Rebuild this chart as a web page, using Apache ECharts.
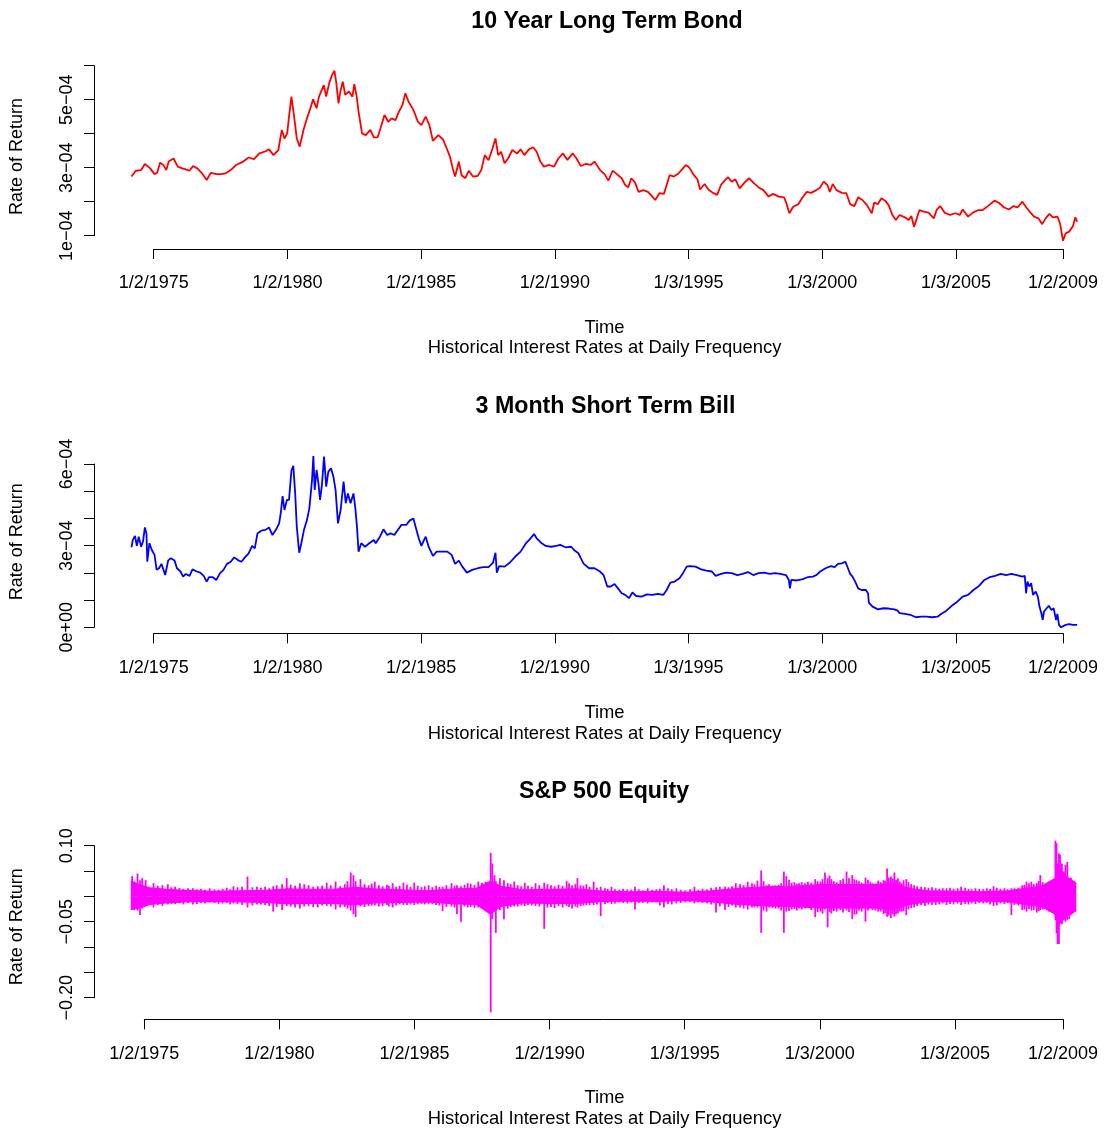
<!DOCTYPE html>
<html>
<head>
<meta charset="utf-8">
<script src="https://cdn.jsdelivr.net/npm/echarts@6/dist/echarts.min.js"></script>
<style>
  html, body { margin: 0; padding: 0; background: #fff; }
  #chart { width: 1106px; height: 1133px; }
</style>
</head>
<body>
<div id="chart"></div>
<script>
// ---- Date axis (decimal years) ----
const dateTicks = [1975, 1980, 1985, 1990, 1995, 2000, 2005, 2009];
const dateLabels = ['1/2/1975', '1/2/1980', '1/2/1985', '1/2/1990', '1/3/1995', '1/3/2000', '1/3/2005', '1/2/2009'];

// ---- Rate axes ----
const bondYTicks = [1e-4, 2e-4, 3e-4, 4e-4, 5e-4, 6e-4];
const bondYLabelAt = [1e-4, 3e-4, 5e-4];
const bondYLabels = ['1e\u221204', '3e\u221204', '5e\u221204'];

const billYTicks = [0, 1e-4, 2e-4, 3e-4, 4e-4, 5e-4, 6e-4];
const billYLabelAt = [0, 3e-4, 6e-4];
const billYLabels = ['0e+00', '3e\u221204', '6e\u221204'];

const spxYTicks = [-0.20, -0.15, -0.10, -0.05, 0, 0.05, 0.10];
const spxYLabelAt = [-0.20, -0.05, 0.10];
const spxYLabels = ['\u22120.20', '\u22120.05', '0.10'];

// ---- 10 year bond daily rate: [year, rate in units of 1e-4] ----
const bondRate = [
  [1974.17,2.74],[1974.33,2.91],[1974.53,2.93],[1974.67,3.11],[1974.87,2.98],[1975.03,2.81],[1975.13,2.85],
  [1975.24,3.15],[1975.37,3.07],[1975.47,2.93],[1975.56,3.18],[1975.74,3.27],[1975.90,3.03],[1976.07,2.98],
  [1976.20,2.95],[1976.34,2.91],[1976.47,3.05],[1976.63,2.98],[1976.81,2.83],[1976.98,2.64],[1977.14,2.85],
  [1977.34,2.81],[1977.54,2.81],[1977.68,2.83],[1977.88,2.93],[1978.08,3.08],[1978.35,3.18],[1978.55,3.30],
  [1978.75,3.25],[1978.95,3.42],[1979.15,3.47],[1979.31,3.54],[1979.48,3.37],[1979.66,3.52],[1979.79,4.11],
  [1979.89,3.86],[1979.99,4.01],[1980.06,4.50],[1980.15,5.09],[1980.25,4.50],[1980.35,3.86],[1980.46,3.62],
  [1980.60,4.11],[1980.73,4.45],[1980.86,4.75],[1980.96,5.01],[1981.09,4.75],[1981.18,5.09],[1981.36,5.43],
  [1981.45,5.09],[1981.56,5.48],[1981.67,5.73],[1981.76,5.85],[1981.83,5.48],[1981.91,4.89],[1981.99,5.28],
  [1982.07,5.53],[1982.16,5.14],[1982.30,5.24],[1982.43,5.09],[1982.50,5.46],[1982.59,5.09],[1982.66,4.65],
  [1982.79,4.01],[1982.93,3.96],[1983.10,4.11],[1983.23,3.89],[1983.37,3.89],[1983.46,4.11],[1983.63,4.55],
  [1983.77,4.35],[1983.90,4.45],[1984.04,4.40],[1984.17,4.65],[1984.30,4.84],[1984.41,5.19],[1984.53,4.94],
  [1984.71,4.70],[1984.88,4.35],[1985.01,4.25],[1985.17,4.50],[1985.31,4.25],[1985.44,3.79],[1985.64,3.96],
  [1985.82,3.83],[1985.98,3.52],[1986.08,3.32],[1986.18,2.98],[1986.27,2.74],[1986.41,3.18],[1986.51,2.78],
  [1986.65,2.69],[1986.78,2.91],[1986.94,2.74],[1987.12,2.76],[1987.25,2.93],[1987.38,3.37],[1987.52,3.22],
  [1987.65,3.52],[1987.78,3.86],[1987.88,3.37],[1987.99,3.47],[1988.12,3.13],[1988.25,3.27],[1988.41,3.52],
  [1988.59,3.42],[1988.72,3.54],[1988.86,3.37],[1989.03,3.54],[1989.19,3.60],[1989.32,3.47],[1989.46,3.18],
  [1989.59,3.03],[1989.79,3.08],[1989.97,3.03],[1990.13,3.27],[1990.30,3.42],[1990.47,3.23],[1990.67,3.42],
  [1990.81,3.27],[1990.97,3.05],[1991.15,3.11],[1991.35,3.08],[1991.48,3.18],[1991.69,2.93],[1991.86,2.81],
  [1992.00,2.62],[1992.16,2.91],[1992.32,2.81],[1992.50,2.69],[1992.63,2.49],[1992.74,2.42],[1992.86,2.69],
  [1993.00,2.56],[1993.13,2.29],[1993.31,2.34],[1993.48,2.29],[1993.62,2.17],[1993.75,2.05],[1993.91,2.25],
  [1994.08,2.23],[1994.18,2.49],[1994.29,2.78],[1994.45,2.74],[1994.62,2.83],[1994.79,2.98],[1994.89,3.08],
  [1995.02,3.01],[1995.20,2.78],[1995.33,2.66],[1995.43,2.36],[1995.60,2.52],[1995.74,2.36],[1995.91,2.26],
  [1996.07,2.20],[1996.21,2.49],[1996.37,2.64],[1996.48,2.72],[1996.61,2.59],[1996.75,2.66],[1996.91,2.39],
  [1997.09,2.56],[1997.26,2.69],[1997.45,2.54],[1997.62,2.42],[1997.80,2.34],[1997.99,2.15],[1998.16,2.23],
  [1998.37,2.15],[1998.57,2.13],[1998.66,1.95],[1998.77,1.66],[1998.91,1.85],[1999.11,1.93],[1999.24,2.10],
  [1999.42,2.29],[1999.58,2.26],[1999.78,2.34],[1999.92,2.42],[2000.05,2.59],[2000.19,2.49],[2000.28,2.29],
  [2000.39,2.52],[2000.53,2.34],[2000.73,2.26],[2000.90,2.25],[2001.04,1.93],[2001.20,1.87],[2001.34,2.13],
  [2001.50,2.05],[2001.67,1.90],[2001.85,1.66],[2001.94,1.97],[2002.08,1.93],[2002.21,2.10],[2002.35,2.03],
  [2002.48,1.90],[2002.62,1.61],[2002.75,1.46],[2002.89,1.61],[2003.09,1.54],[2003.23,1.46],[2003.33,1.58],
  [2003.43,1.26],[2003.52,1.48],[2003.63,1.75],[2003.79,1.71],[2003.97,1.68],[2004.17,1.51],[2004.28,1.77],
  [2004.41,1.87],[2004.57,1.68],[2004.78,1.61],[2004.98,1.66],[2005.14,1.61],[2005.25,1.77],[2005.45,1.56],
  [2005.63,1.68],[2005.82,1.75],[2005.99,1.75],[2006.19,1.87],[2006.44,2.03],[2006.60,1.97],[2006.80,1.83],
  [2006.98,1.77],[2007.14,1.87],[2007.30,1.83],[2007.48,2.00],[2007.61,1.85],[2007.75,1.71],[2007.92,1.56],
  [2008.08,1.51],[2008.22,1.34],[2008.35,1.51],[2008.49,1.64],[2008.62,1.54],[2008.79,1.56],[2008.89,1.36],
  [2009.00,0.85],[2009.10,1.07],[2009.23,1.12],[2009.37,1.28],[2009.46,1.54],[2009.53,1.41]
];

// ---- 3 month bill daily rate: [year, rate in units of 1e-4] ----
const billRate = [
  [1974.17,2.94],[1974.22,3.21],[1974.30,3.36],[1974.37,2.99],[1974.44,3.33],[1974.53,2.96],[1974.60,3.15],
  [1974.67,3.67],[1974.73,3.45],[1974.76,2.41],[1974.84,3.09],[1974.93,2.84],[1975.03,2.66],[1975.11,2.11],
  [1975.20,2.17],[1975.29,2.33],[1975.43,1.92],[1975.54,2.45],[1975.64,2.54],[1975.78,2.45],[1975.87,2.17],
  [1976.00,2.05],[1976.10,1.86],[1976.20,1.96],[1976.34,1.89],[1976.45,2.13],[1976.61,2.05],[1976.74,2.01],
  [1976.87,1.89],[1976.98,1.68],[1977.07,1.84],[1977.21,1.84],[1977.34,1.74],[1977.48,1.99],[1977.61,2.11],
  [1977.74,2.33],[1977.88,2.41],[1978.01,2.57],[1978.15,2.47],[1978.28,2.41],[1978.41,2.57],[1978.55,2.72],
  [1978.68,2.99],[1978.78,2.90],[1978.88,3.45],[1979.02,3.55],[1979.18,3.58],[1979.31,3.67],[1979.44,3.39],
  [1979.58,3.60],[1979.69,3.82],[1979.75,4.19],[1979.82,4.82],[1979.89,4.31],[1979.98,4.68],[1980.06,4.68],
  [1980.15,5.76],[1980.22,5.93],[1980.29,4.92],[1980.35,3.70],[1980.44,2.74],[1980.52,3.09],[1980.62,3.58],
  [1980.73,3.94],[1980.82,4.37],[1980.92,5.41],[1980.97,6.29],[1981.02,5.05],[1981.09,5.78],[1981.16,5.29],
  [1981.22,4.68],[1981.29,5.23],[1981.37,6.27],[1981.45,5.17],[1981.53,5.72],[1981.63,5.84],[1981.72,5.53],
  [1981.80,5.05],[1981.89,3.82],[1981.99,4.31],[1982.10,5.35],[1982.18,4.56],[1982.26,4.92],[1982.36,4.56],
  [1982.47,4.92],[1982.54,4.37],[1982.60,3.70],[1982.66,2.78],[1982.76,3.09],[1982.90,2.96],[1983.06,3.09],
  [1983.23,3.21],[1983.30,3.09],[1983.46,3.33],[1983.59,3.60],[1983.73,3.39],[1983.86,3.45],[1984.00,3.39],
  [1984.13,3.58],[1984.26,3.76],[1984.44,3.76],[1984.57,3.92],[1984.71,4.00],[1984.80,3.67],[1984.91,3.27],
  [1985.01,2.99],[1985.11,3.21],[1985.17,3.33],[1985.28,2.96],[1985.44,2.62],[1985.58,2.78],[1985.78,2.78],
  [1985.98,2.78],[1986.14,2.66],[1986.27,2.33],[1986.41,2.45],[1986.54,2.23],[1986.71,2.01],[1986.91,2.11],
  [1987.12,2.17],[1987.32,2.21],[1987.52,2.21],[1987.69,2.38],[1987.78,2.74],[1987.83,2.01],[1987.92,2.25],
  [1988.12,2.23],[1988.32,2.38],[1988.52,2.60],[1988.72,2.78],[1988.92,3.09],[1989.06,3.23],[1989.22,3.43],
  [1989.32,3.27],[1989.48,3.11],[1989.66,2.99],[1989.86,2.96],[1990.06,2.99],[1990.20,3.03],[1990.40,2.94],
  [1990.61,2.96],[1990.74,2.82],[1990.88,2.72],[1990.97,2.54],[1991.08,2.33],[1991.28,2.17],[1991.48,2.17],
  [1991.69,2.05],[1991.82,1.92],[1991.96,1.50],[1992.09,1.50],[1992.23,1.59],[1992.36,1.43],[1992.50,1.25],
  [1992.63,1.19],[1992.77,1.07],[1992.90,1.28],[1993.04,1.15],[1993.24,1.13],[1993.44,1.21],[1993.64,1.19],
  [1993.85,1.23],[1994.05,1.19],[1994.18,1.37],[1994.32,1.64],[1994.48,1.68],[1994.66,1.80],[1994.79,1.99],
  [1994.93,2.23],[1995.06,2.25],[1995.26,2.23],[1995.47,2.13],[1995.67,2.08],[1995.87,2.05],[1996.01,1.89],
  [1996.21,1.96],[1996.41,2.01],[1996.61,1.99],[1996.82,1.92],[1997.02,1.96],[1997.22,2.03],[1997.42,1.92],
  [1997.62,1.99],[1997.83,2.01],[1998.03,1.96],[1998.23,1.99],[1998.43,1.96],[1998.64,1.92],[1998.75,1.74],
  [1998.79,1.43],[1998.84,1.74],[1999.04,1.72],[1999.24,1.76],[1999.45,1.84],[1999.65,1.86],[1999.78,1.92],
  [1999.92,2.05],[2000.12,2.17],[2000.32,2.25],[2000.46,2.21],[2000.59,2.33],[2000.73,2.35],[2000.86,2.41],
  [2000.96,2.17],[2001.04,1.96],[2001.13,1.86],[2001.23,1.68],[2001.34,1.43],[2001.47,1.37],[2001.63,1.37],
  [2001.71,1.25],[2001.74,0.91],[2001.88,0.76],[2002.08,0.66],[2002.28,0.70],[2002.48,0.69],[2002.69,0.66],
  [2002.82,0.61],[2002.89,0.52],[2003.09,0.49],[2003.29,0.46],[2003.50,0.37],[2003.70,0.39],[2003.90,0.39],
  [2004.10,0.37],[2004.31,0.39],[2004.44,0.49],[2004.64,0.61],[2004.84,0.79],[2005.05,0.94],[2005.25,1.13],
  [2005.45,1.19],[2005.65,1.37],[2005.86,1.52],[2006.06,1.74],[2006.26,1.84],[2006.46,1.89],[2006.67,1.96],
  [2006.87,1.92],[2007.07,1.96],[2007.27,1.92],[2007.48,1.86],[2007.57,1.89],[2007.62,1.25],[2007.67,1.68],
  [2007.74,1.50],[2007.81,1.62],[2007.88,1.19],[2007.98,1.31],[2008.06,1.13],[2008.12,0.76],[2008.19,0.52],
  [2008.24,0.27],[2008.29,0.58],[2008.39,0.70],[2008.47,0.79],[2008.56,0.64],[2008.65,0.70],[2008.74,0.27],
  [2008.79,0.49],[2008.85,0.09],[2008.93,0.00],[2009.10,0.09],[2009.23,0.12],[2009.37,0.09],[2009.53,0.09]
];

// ---- S&P 500 daily returns ----
// Dense body of the daily returns: [year, upper, lower]
const spxBody = [
  [1974.50,0.030,-0.026],[1974.70,0.026,-0.024],[1974.90,0.022,-0.022],[1975.20,0.017,-0.016],
  [1975.80,0.014,-0.013],[1976.50,0.012,-0.011],[1977.50,0.010,-0.010],[1978.50,0.011,-0.011],
  [1979.50,0.012,-0.012],[1980.30,0.015,-0.015],[1981.00,0.014,-0.014],[1982.00,0.014,-0.014],
  [1982.80,0.018,-0.017],[1983.50,0.015,-0.013],[1984.50,0.013,-0.012],[1985.50,0.011,-0.011],
  [1986.50,0.015,-0.015],[1987.30,0.016,-0.016],[1987.80,0.030,-0.035],[1988.20,0.020,-0.020],
  [1989.00,0.013,-0.013],[1990.00,0.014,-0.014],[1991.00,0.015,-0.014],[1992.00,0.010,-0.010],
  [1993.00,0.009,-0.009],[1994.00,0.010,-0.010],[1995.00,0.008,-0.008],[1996.00,0.011,-0.011],
  [1997.00,0.016,-0.016],[1998.00,0.019,-0.019],[1999.00,0.020,-0.020],[2000.00,0.023,-0.023],
  [2001.00,0.023,-0.023],[2002.00,0.023,-0.023],[2002.70,0.026,-0.026],[2003.30,0.016,-0.016],
  [2004.00,0.011,-0.011],[2005.00,0.010,-0.010],[2006.00,0.009,-0.009],[2007.00,0.011,-0.011],
  [2007.60,0.016,-0.016],[2008.20,0.020,-0.020],[2008.70,0.035,-0.035],[2008.85,0.055,-0.055],
  [2009.10,0.040,-0.040],[2009.49,0.026,-0.028]
];
// Biggest up and down days around each date: [year, high, low]
const spxSwings = [
  [1974.55,0.040,-0.022],[1974.63,0.029,-0.027],[1974.75,0.045,-0.028],[1974.84,0.032,-0.037],
  [1974.92,0.036,-0.024],[1975.05,0.032,-0.017],[1975.34,0.026,-0.022],[1975.50,0.021,-0.017],
  [1975.67,0.022,-0.019],[1975.87,0.024,-0.016],[1976.00,0.018,-0.015],[1976.14,0.019,-0.015],
  [1976.30,0.017,-0.014],[1976.45,0.015,-0.016],[1976.62,0.016,-0.013],[1976.80,0.016,-0.016],
  [1976.95,0.014,-0.015],[1977.10,0.015,-0.013],[1977.25,0.013,-0.014],[1977.42,0.016,-0.012],
  [1977.60,0.014,-0.013],[1977.75,0.013,-0.015],[1977.90,0.015,-0.014],[1978.05,0.017,-0.013],
  [1978.18,0.014,-0.016],[1978.30,0.020,-0.014],[1978.45,0.018,-0.015],[1978.62,0.019,-0.017],
  [1978.82,0.039,-0.022],[1979.00,0.018,-0.018],[1979.17,0.019,-0.016],[1979.32,0.017,-0.016],
  [1979.47,0.019,-0.017],[1979.62,0.016,-0.019],[1979.77,0.020,-0.030],[1979.90,0.022,-0.021],
  [1980.10,0.024,-0.027],[1980.27,0.036,-0.019],[1980.42,0.023,-0.020],[1980.58,0.021,-0.022],
  [1980.76,0.026,-0.024],[1980.92,0.024,-0.020],[1981.08,0.022,-0.019],[1981.25,0.019,-0.021],
  [1981.42,0.020,-0.022],[1981.58,0.021,-0.018],[1981.75,0.027,-0.019],[1981.90,0.022,-0.020],
  [1982.08,0.029,-0.026],[1982.25,0.020,-0.022],[1982.42,0.024,-0.021],[1982.52,0.030,-0.024],
  [1982.64,0.047,-0.028],[1982.74,0.042,-0.035],[1982.82,0.030,-0.041],[1983.00,0.034,-0.020],
  [1983.15,0.024,-0.021],[1983.30,0.022,-0.019],[1983.42,0.025,-0.018],[1983.53,0.029,-0.018],
  [1983.68,0.022,-0.020],[1983.82,0.020,-0.019],[1983.98,0.023,-0.017],[1984.05,0.021,-0.020],
  [1984.19,0.026,-0.022],[1984.32,0.019,-0.018],[1984.45,0.021,-0.016],[1984.59,0.027,-0.017],
  [1984.72,0.023,-0.017],[1984.85,0.019,-0.016],[1984.99,0.027,-0.017],[1985.12,0.021,-0.016],
  [1985.26,0.018,-0.015],[1985.38,0.020,-0.016],[1985.52,0.022,-0.015],[1985.66,0.018,-0.015],
  [1985.80,0.021,-0.017],[1985.92,0.019,-0.018],[1986.04,0.019,-0.029],[1986.18,0.022,-0.021],
  [1986.37,0.026,-0.020],[1986.48,0.021,-0.022],[1986.57,0.022,-0.035],[1986.72,0.020,-0.050],
  [1986.85,0.023,-0.020],[1986.97,0.026,-0.022],[1987.08,0.025,-0.021],[1987.22,0.022,-0.023],
  [1987.36,0.029,-0.022],[1987.50,0.027,-0.024],[1987.63,0.029,-0.026],[1987.70,0.026,-0.030],
  [1987.82,0.086,-0.229],[1987.88,0.065,-0.045],[1987.96,0.042,-0.024],[1988.01,0.030,-0.072],
  [1988.16,0.036,-0.027],[1988.31,0.032,-0.045],[1988.45,0.026,-0.024],[1988.56,0.024,-0.021],
  [1988.69,0.029,-0.020],[1988.82,0.022,-0.020],[1988.95,0.020,-0.018],[1989.08,0.027,-0.019],
  [1989.20,0.021,-0.017],[1989.34,0.019,-0.018],[1989.48,0.026,-0.019],[1989.62,0.022,-0.020],
  [1989.80,0.027,-0.064],[1989.92,0.024,-0.022],[1990.05,0.022,-0.021],[1990.18,0.020,-0.023],
  [1990.33,0.023,-0.019],[1990.48,0.021,-0.022],[1990.63,0.030,-0.019],[1990.72,0.026,-0.021],
  [1990.83,0.022,-0.024],[1990.95,0.024,-0.020],[1991.03,0.036,-0.022],[1991.15,0.022,-0.019],
  [1991.25,0.021,-0.018],[1991.36,0.024,-0.017],[1991.48,0.019,-0.017],[1991.63,0.029,-0.017],
  [1991.75,0.017,-0.016],[1991.89,0.019,-0.039],[1992.05,0.016,-0.015],[1992.15,0.015,-0.013],
  [1992.29,0.019,-0.015],[1992.42,0.014,-0.014],[1992.58,0.013,-0.012],[1992.72,0.015,-0.013],
  [1992.88,0.014,-0.014],[1993.02,0.013,-0.012],[1993.16,0.019,-0.026],[1993.30,0.014,-0.013],
  [1993.45,0.012,-0.013],[1993.63,0.016,-0.014],[1993.80,0.013,-0.012],[1993.95,0.014,-0.012],
  [1994.08,0.015,-0.018],[1994.23,0.022,-0.022],[1994.38,0.016,-0.015],[1994.52,0.014,-0.016],
  [1994.69,0.016,-0.014],[1994.85,0.013,-0.013],[1995.02,0.012,-0.012],[1995.20,0.014,-0.011],
  [1995.36,0.019,-0.014],[1995.50,0.013,-0.012],[1995.66,0.015,-0.013],[1995.82,0.014,-0.014],
  [1995.98,0.017,-0.016],[1996.16,0.018,-0.032],[1996.30,0.019,-0.020],[1996.49,0.019,-0.027],
  [1996.62,0.018,-0.021],[1996.75,0.020,-0.018],[1996.89,0.026,-0.022],[1997.05,0.024,-0.022],
  [1997.18,0.022,-0.024],[1997.33,0.029,-0.026],[1997.49,0.026,-0.022],[1997.58,0.024,-0.022],
  [1997.69,0.031,-0.022],[1997.83,0.051,-0.072],[1997.92,0.030,-0.028],[1998.03,0.022,-0.030],
  [1998.12,0.024,-0.022],[1998.25,0.021,-0.023],[1998.36,0.022,-0.024],[1998.48,0.023,-0.024],
  [1998.57,0.026,-0.028],[1998.67,0.049,-0.072],[1998.76,0.040,-0.030],[1998.86,0.033,-0.029],
  [1998.96,0.027,-0.026],[1999.06,0.028,-0.025],[1999.15,0.025,-0.028],[1999.23,0.026,-0.024],
  [1999.33,0.028,-0.026],[1999.45,0.026,-0.024],[1999.56,0.029,-0.022],[1999.68,0.027,-0.027],
  [1999.83,0.034,-0.041],[1999.92,0.030,-0.031],[2000.03,0.029,-0.030],[2000.10,0.034,-0.034],
  [2000.19,0.047,-0.026],[2000.29,0.036,-0.061],[2000.36,0.041,-0.031],[2000.43,0.034,-0.034],
  [2000.52,0.030,-0.029],[2000.62,0.028,-0.030],[2000.76,0.032,-0.027],[2000.86,0.035,-0.032],
  [2000.99,0.049,-0.028],[2001.08,0.036,-0.031],[2001.20,0.042,-0.045],[2001.28,0.034,-0.036],
  [2001.36,0.032,-0.035],[2001.45,0.030,-0.028],[2001.55,0.027,-0.030],[2001.69,0.037,-0.050],
  [2001.78,0.033,-0.028],[2001.87,0.029,-0.024],[2001.95,0.026,-0.027],[2002.05,0.025,-0.028],
  [2002.16,0.031,-0.030],[2002.25,0.028,-0.030],[2002.36,0.032,-0.035],[2002.42,0.031,-0.033],
  [2002.49,0.055,-0.040],[2002.55,0.037,-0.038],[2002.63,0.039,-0.043],[2002.70,0.035,-0.035],
  [2002.76,0.047,-0.040],[2002.82,0.033,-0.036],[2002.89,0.036,-0.034],[2002.96,0.029,-0.030],
  [2003.03,0.026,-0.030],[2003.10,0.032,-0.029],[2003.20,0.034,-0.037],[2003.28,0.028,-0.026],
  [2003.38,0.024,-0.023],[2003.49,0.022,-0.022],[2003.60,0.020,-0.019],[2003.75,0.019,-0.017],
  [2003.89,0.018,-0.019],[2004.02,0.017,-0.016],[2004.15,0.018,-0.017],[2004.29,0.016,-0.017],
  [2004.42,0.015,-0.016],[2004.55,0.016,-0.014],[2004.69,0.016,-0.017],[2004.82,0.017,-0.015],
  [2004.95,0.015,-0.016],[2005.10,0.016,-0.014],[2005.23,0.019,-0.017],[2005.38,0.017,-0.015],
  [2005.50,0.015,-0.016],[2005.62,0.014,-0.014],[2005.76,0.016,-0.015],[2005.90,0.015,-0.013],
  [2006.05,0.014,-0.014],[2006.18,0.016,-0.013],[2006.30,0.015,-0.016],[2006.43,0.020,-0.019],
  [2006.55,0.017,-0.018],[2006.68,0.015,-0.014],[2006.83,0.016,-0.015],[2006.95,0.014,-0.013],
  [2007.09,0.016,-0.037],[2007.20,0.016,-0.017],[2007.35,0.017,-0.018],[2007.49,0.022,-0.027],
  [2007.57,0.023,-0.026],[2007.65,0.029,-0.030],[2007.74,0.026,-0.025],[2007.83,0.029,-0.028],
  [2007.92,0.024,-0.027],[2008.03,0.026,-0.032],[2008.10,0.030,-0.029],[2008.16,0.042,-0.027],
  [2008.25,0.028,-0.026],[2008.36,0.022,-0.024],[2008.42,0.024,-0.022],[2008.49,0.029,-0.030],
  [2008.56,0.022,-0.024],[2008.63,0.026,-0.032],[2008.67,0.030,-0.034],[2008.72,0.110,-0.047],
  [2008.76,0.105,-0.073],[2008.80,0.065,-0.094],[2008.85,0.085,-0.094],[2008.89,0.082,-0.053],
  [2008.96,0.065,-0.055],[2009.03,0.049,-0.047],[2009.09,0.062,-0.050],[2009.16,0.068,-0.047],
  [2009.23,0.036,-0.045],[2009.29,0.037,-0.037],[2009.36,0.029,-0.034],[2009.45,0.022,-0.030]
];

// ---- Layout and style ----
const FONT = '"Liberation Sans", Arial, Helvetica, sans-serif';
const PLOT_LEFT = 94;        // left edge of every plotting region (rate axis sits here)
const PLOT_RIGHT = 1114.4;   // right edge of every plotting region
const CENTER_X = 604.5;      // centre of the plotting regions
// left/top/width/height: span of the first..last tick on each axis
// plotTop: top of the plotting region; xOffset: gap between last rate tick and the date axis
const panels = [
  { title: '10 Year Long Term Bond', titleX: 607, left: 153.7, top: 65.7, width: 909.3, height: 170, plotTop: 64, xOffset: 13.3,
    labelMargin: 25, yMin: 1e-4, yMax: 6e-4, yTicks: bondYTicks, yLabelAt: bondYLabelAt, yLabels: bondYLabels,
    titleY: 22, timeY: 328, subY: 348, yTitleY: 156.5 },
  { title: '3 Month Short Term Bill', titleX: 605.5, left: 153.7, top: 464, width: 909.3, height: 163.3, plotTop: 450, xOffset: 6,
    labelMargin: 26, yMin: 0, yMax: 6e-4, yTicks: billYTicks, yLabelAt: billYLabelAt, yLabels: billYLabels,
    titleY: 407, timeY: 713, subY: 734, yTitleY: 541.7 },
  { title: 'S&P 500 Equity', titleX: 604, left: 144.3, top: 845.7, width: 918.7, height: 152, plotTop: 834, xOffset: 21.6,
    labelMargin: 26, yMin: -0.20, yMax: 0.10, yTicks: spxYTicks, yLabelAt: spxYLabelAt, yLabels: spxYLabels,
    titleY: 792, timeY: 1098, subY: 1119, yTitleY: 926.7 }
];
const X_MIN = 1975, X_MAX = 2009;

function pick(values, labels, v) {
  const i = values.findIndex(t => Math.abs(t - v) < 1e-9);
  return i >= 0 ? labels[i] : '';
}
// widen an axis range by a number of pixels on each side
function widen(min, max, lenPx, padLo, padHi) {
  const k = (max - min) / lenPx;
  return [min - padLo * k, max + padHi * k];
}

const axisLineStyle = { color: '#000', width: 1 };
const grids = [], xAxes = [], yAxes = [];

// grids 0..2 carry the drawn axes (spanning the tick range only)
panels.forEach((p, i) => {
  grids.push({ left: p.left, top: p.top, width: p.width, height: p.height,
    containLabel: false, outerBoundsMode: 'none' });
  xAxes.push({
    type: 'value', gridIndex: i, min: X_MIN, max: X_MAX, offset: p.xOffset,
    splitLine: { show: false },
    axisLine: { show: true, onZero: false, lineStyle: axisLineStyle },
    axisTick: { show: true, length: 10, lineStyle: axisLineStyle, customValues: dateTicks },
    axisLabel: {
      show: true, customValues: dateTicks, margin: p.labelMargin,
      color: '#000', fontSize: 18, fontFamily: FONT,
      formatter: v => pick(dateTicks, dateLabels, v)
    }
  });
  yAxes.push({
    type: 'value', gridIndex: i, min: p.yMin, max: p.yMax, offset: p.left - PLOT_LEFT,
    splitLine: { show: false },
    axisLine: { show: true, onZero: false, lineStyle: axisLineStyle },
    axisTick: { show: true, length: 10, lineStyle: axisLineStyle, customValues: p.yTicks },
    axisLabel: {
      show: true, customValues: p.yLabelAt, rotate: 90, margin: 18,
      color: '#000', fontSize: 18, fontFamily: FONT,
      formatter: v => pick(p.yLabelAt, p.yLabels, v)
    }
  });
});

// grids 3..5 hold the data over the full plotting region, same scale as the drawn axes
panels.forEach((p, i) => {
  const bottom = p.top + p.height + p.xOffset;
  const [xmin, xmax] = widen(X_MIN, X_MAX, p.width, p.left - PLOT_LEFT, PLOT_RIGHT - (p.left + p.width));
  const [ymin, ymax] = widen(p.yMin, p.yMax, p.height, p.xOffset, p.top - p.plotTop);
  grids.push({ left: PLOT_LEFT, top: p.plotTop, width: PLOT_RIGHT - PLOT_LEFT, height: bottom - p.plotTop,
    containLabel: false, outerBoundsMode: 'none' });
  xAxes.push({ type: 'value', gridIndex: 3 + i, min: xmin, max: xmax, show: false,
    axisLine: { onZero: false }, splitLine: { show: false } });
  yAxes.push({ type: 'value', gridIndex: 3 + i, min: ymin, max: ymax, show: false,
    splitLine: { show: false } });
});

const texts = [];
panels.forEach(p => {
  texts.push({ type: 'text', x: p.titleX, y: p.titleY,
    style: { text: p.title, fill: '#000', font: 'bold 23.2px ' + FONT, align: 'center', verticalAlign: 'middle' } });
  texts.push({ type: 'text', x: CENTER_X, y: p.timeY,
    style: { text: 'Time', fill: '#000', font: '18.4px ' + FONT, align: 'center', verticalAlign: 'middle' } });
  texts.push({ type: 'text', x: CENTER_X, y: p.subY,
    style: { text: 'Historical Interest Rates at Daily Frequency', fill: '#000', font: '18.4px ' + FONT, align: 'center', verticalAlign: 'middle' } });
  texts.push({ type: 'text', x: 17.5, y: p.yTitleY, rotation: Math.PI / 2,
    style: { text: 'Rate of Return', fill: '#000', font: '18px ' + FONT, align: 'center', verticalAlign: 'middle' } });
});

const SPX = '#FF00FF';

const option = {
  animation: false,
  backgroundColor: '#fff',
  grid: grids,
  xAxis: xAxes,
  yAxis: yAxes,
  graphic: texts,
  series: [
    {
      name: '10 Year Long Term Bond', type: 'line', xAxisIndex: 3, yAxisIndex: 3,
      data: bondRate.map(([t, r]) => [t, r * 1e-4]),
      showSymbol: false, clip: false, lineStyle: { color: '#FF0000', width: 1.8 }
    },
    {
      name: '3 Month Short Term Bill', type: 'line', xAxisIndex: 4, yAxisIndex: 4,
      data: billRate.map(([t, r]) => [t, r * 1e-4]),
      showSymbol: false, clip: false, lineStyle: { color: '#0000FF', width: 1.8 }
    },
    {
      name: 'S&P 500 body high', type: 'line', xAxisIndex: 5, yAxisIndex: 5,
      data: spxBody.map(([t, hi]) => [t, hi]),
      showSymbol: false, clip: false, lineStyle: { color: SPX, width: 1.2 },
      areaStyle: { color: SPX, opacity: 1, origin: 0 }
    },
    {
      name: 'S&P 500 body low', type: 'line', xAxisIndex: 5, yAxisIndex: 5,
      data: spxBody.map(([t, , lo]) => [t, lo]),
      showSymbol: false, clip: false, lineStyle: { color: SPX, width: 1.2 },
      areaStyle: { color: SPX, opacity: 1, origin: 0 }
    },
    {
      name: 'S&P 500 swings', type: 'custom', xAxisIndex: 5, yAxisIndex: 5,
      data: spxSwings, encode: { x: 0, y: [1, 2] }, clip: false,
      renderItem: (params, api) => {
        const t = api.value(0);
        const a = api.coord([t, api.value(1)]);
        const b = api.coord([t, api.value(2)]);
        return { type: 'line', shape: { x1: a[0], y1: a[1], x2: b[0], y2: b[1] },
          style: { stroke: SPX, lineWidth: 1.8 } };
      }
    }
  ]
};

const chart = echarts.init(document.getElementById('chart'), null, { renderer: 'canvas' });
chart.setOption(option);
</script>
</body>
</html>
